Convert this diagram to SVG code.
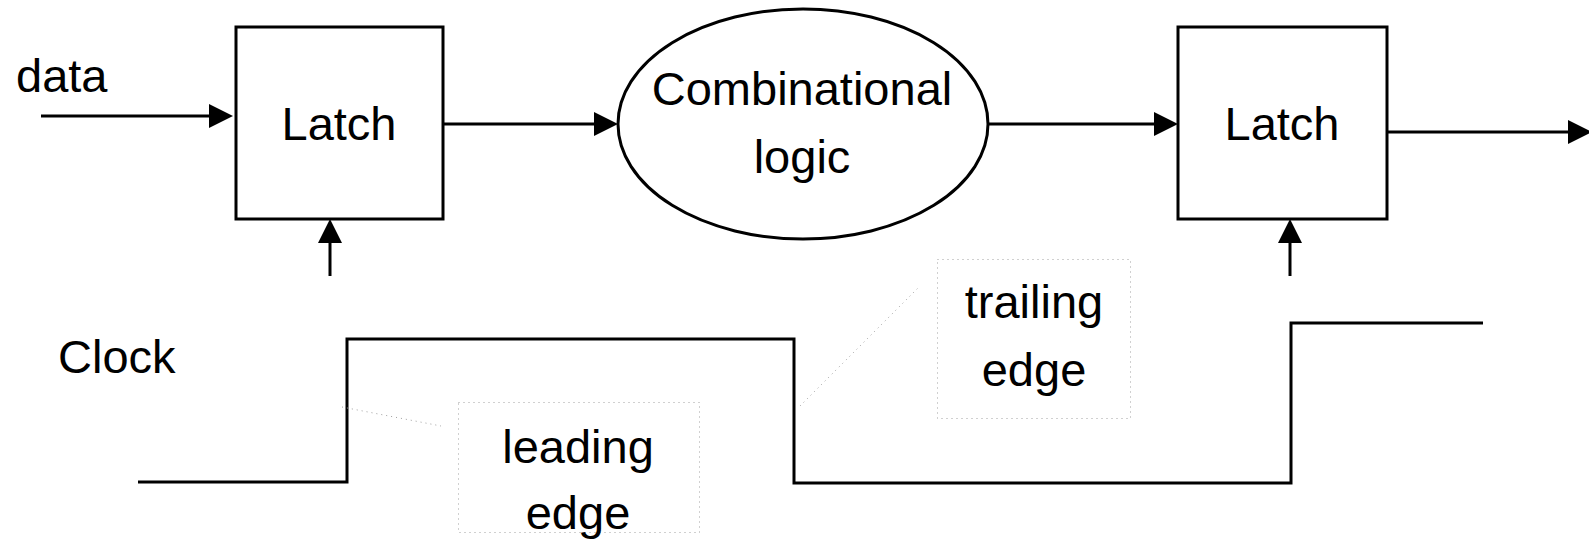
<svg xmlns="http://www.w3.org/2000/svg" width="1589" height="539" viewBox="0 0 1589 539">
<style>
.s{fill:none;stroke:#000;stroke-width:3;stroke-linejoin:miter}
.t{font-family:"Liberation Sans",Arial,sans-serif;font-size:47px;fill:#000}
.m{text-anchor:middle}
.d{fill:none;stroke:#a0a0a0;stroke-width:1;stroke-dasharray:1 4}
</style>
<defs>
<marker id="ah" viewBox="0 0 24 24" refX="12" refY="12" markerWidth="24" markerHeight="24" markerUnits="userSpaceOnUse" orient="auto">
<path d="M0,0 L24,12 L0,24 Z" fill="#000"/>
</marker>
</defs>
<rect width="1589" height="539" fill="#fff"/>
<g id="data-label"><text class="t" x="16" y="92">data</text></g>
<g id="latch1"><rect class="s" x="236" y="27" width="207" height="192"/><text class="t m" x="339" y="140">Latch</text></g>
<g id="comb-logic"><ellipse class="s" cx="803" cy="124" rx="185" ry="115"/><text class="t m" x="802" y="105">Combinational</text><text class="t m" x="802" y="173">logic</text></g>
<g id="latch2"><rect class="s" x="1178" y="27" width="209" height="192"/><text class="t m" x="1282" y="140">Latch</text></g>
<g id="clock-label"><text class="t" x="58" y="373">Clock</text></g>
<g id="clock-wave"><polyline class="s" points="138,482 347,482 347,339 794,339 794,483 1291,483 1291,323 1483,323"/></g>
<g id="leading-edge"><rect class="d" x="458.5" y="402.5" width="241" height="130"/><text class="t m" x="578" y="463">leading</text><text class="t m" x="578" y="529">edge</text></g>
<g id="trailing-edge"><rect class="d" x="937.5" y="259.5" width="193" height="159"/><text class="t m" x="1034" y="318">trailing</text><text class="t m" x="1034" y="386">edge</text></g>
<g id="connectors">
<line class="s" x1="41" y1="116" x2="221" y2="116" marker-end="url(#ah)"/>
<line class="s" x1="443" y1="124" x2="606" y2="124" marker-end="url(#ah)"/>
<line class="s" x1="988" y1="124" x2="1166" y2="124" marker-end="url(#ah)"/>
<line class="s" x1="1387" y1="132" x2="1580" y2="132" marker-end="url(#ah)"/>
<line class="s" x1="330" y1="276" x2="330" y2="231" marker-end="url(#ah)"/>
<line class="s" x1="1290" y1="276" x2="1290" y2="231" marker-end="url(#ah)"/>
<line class="d" x1="342" y1="407" x2="441" y2="426"/>
<line class="d" x1="800" y1="406" x2="918" y2="288"/>
</g>
</svg>
